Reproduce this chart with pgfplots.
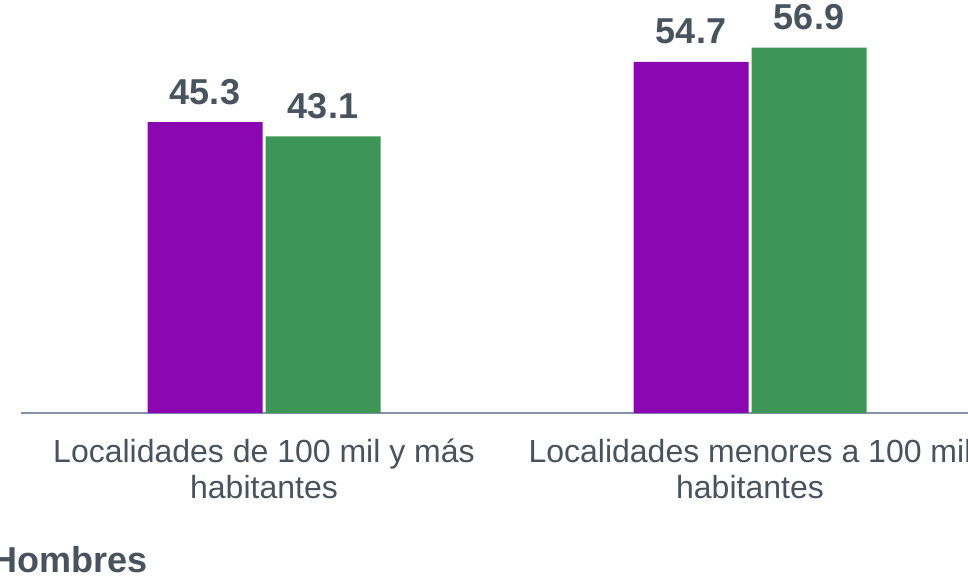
\documentclass[border=0pt]{standalone}
\usepackage{fontspec}
\setmainfont{Liberation Sans}
\usepackage{pgfplots}
\pgfplotsset{compat=1.18}
\definecolor{barpurple}{RGB}{138,7,178}
\definecolor{bargreen}{RGB}{61,150,85}
\definecolor{txtgray}{RGB}{73,83,94}
\definecolor{axgray}{RGB}{132,148,166}
\begin{document}
\begin{tikzpicture}
\path[use as bounding box] (0,0) rectangle (726pt,434.25pt);
\clip (0,0) rectangle (726pt,434.25pt);
\begin{axis}[
  at={(15.75pt,124.5pt)}, anchor=south west,
  scale only axis, width=729pt, height=309.75pt,
  ybar=2.25pt, bar width=86.25pt,
  xmin=-0.5, xmax=1.5, ymin=0, ymax=64.33,
  axis y line=none, axis x line=bottom,
  x axis line style={-, draw=axgray, line width=1.5pt},
  major tick length=0pt,
  xtick={0,1},
  xticklabels={Localidades de 100 mil y más\\habitantes,
               Localidades menores a 100 mil\\habitantes},
  x tick label style={align=center, text=txtgray,
    font=\fontsize{24}{27}\selectfont, yshift=-16pt},
  clip=false,
  /pgf/number format/.cd, fixed, fixed zerofill, precision=1, assume math mode=true,
  /pgfplots/.cd,
  nodes near coords,
  every node near coord/.append style={anchor=base, yshift=13.5pt,
    text=txtgray, font=\fontsize{27}{30}\selectfont\bfseries},
]
\addplot[fill=barpurple, draw=none] coordinates {(0,45.3) (1,54.7)};
\addplot[fill=bargreen, draw=none] coordinates {(0,43.1) (1,56.9)};
\end{axis}
\node[anchor=base east, text=txtgray, font=\fontsize{27}{30}\selectfont\bfseries, inner sep=0pt]
  at (111pt,5.25pt) {Hombres};
\end{tikzpicture}
\end{document}
